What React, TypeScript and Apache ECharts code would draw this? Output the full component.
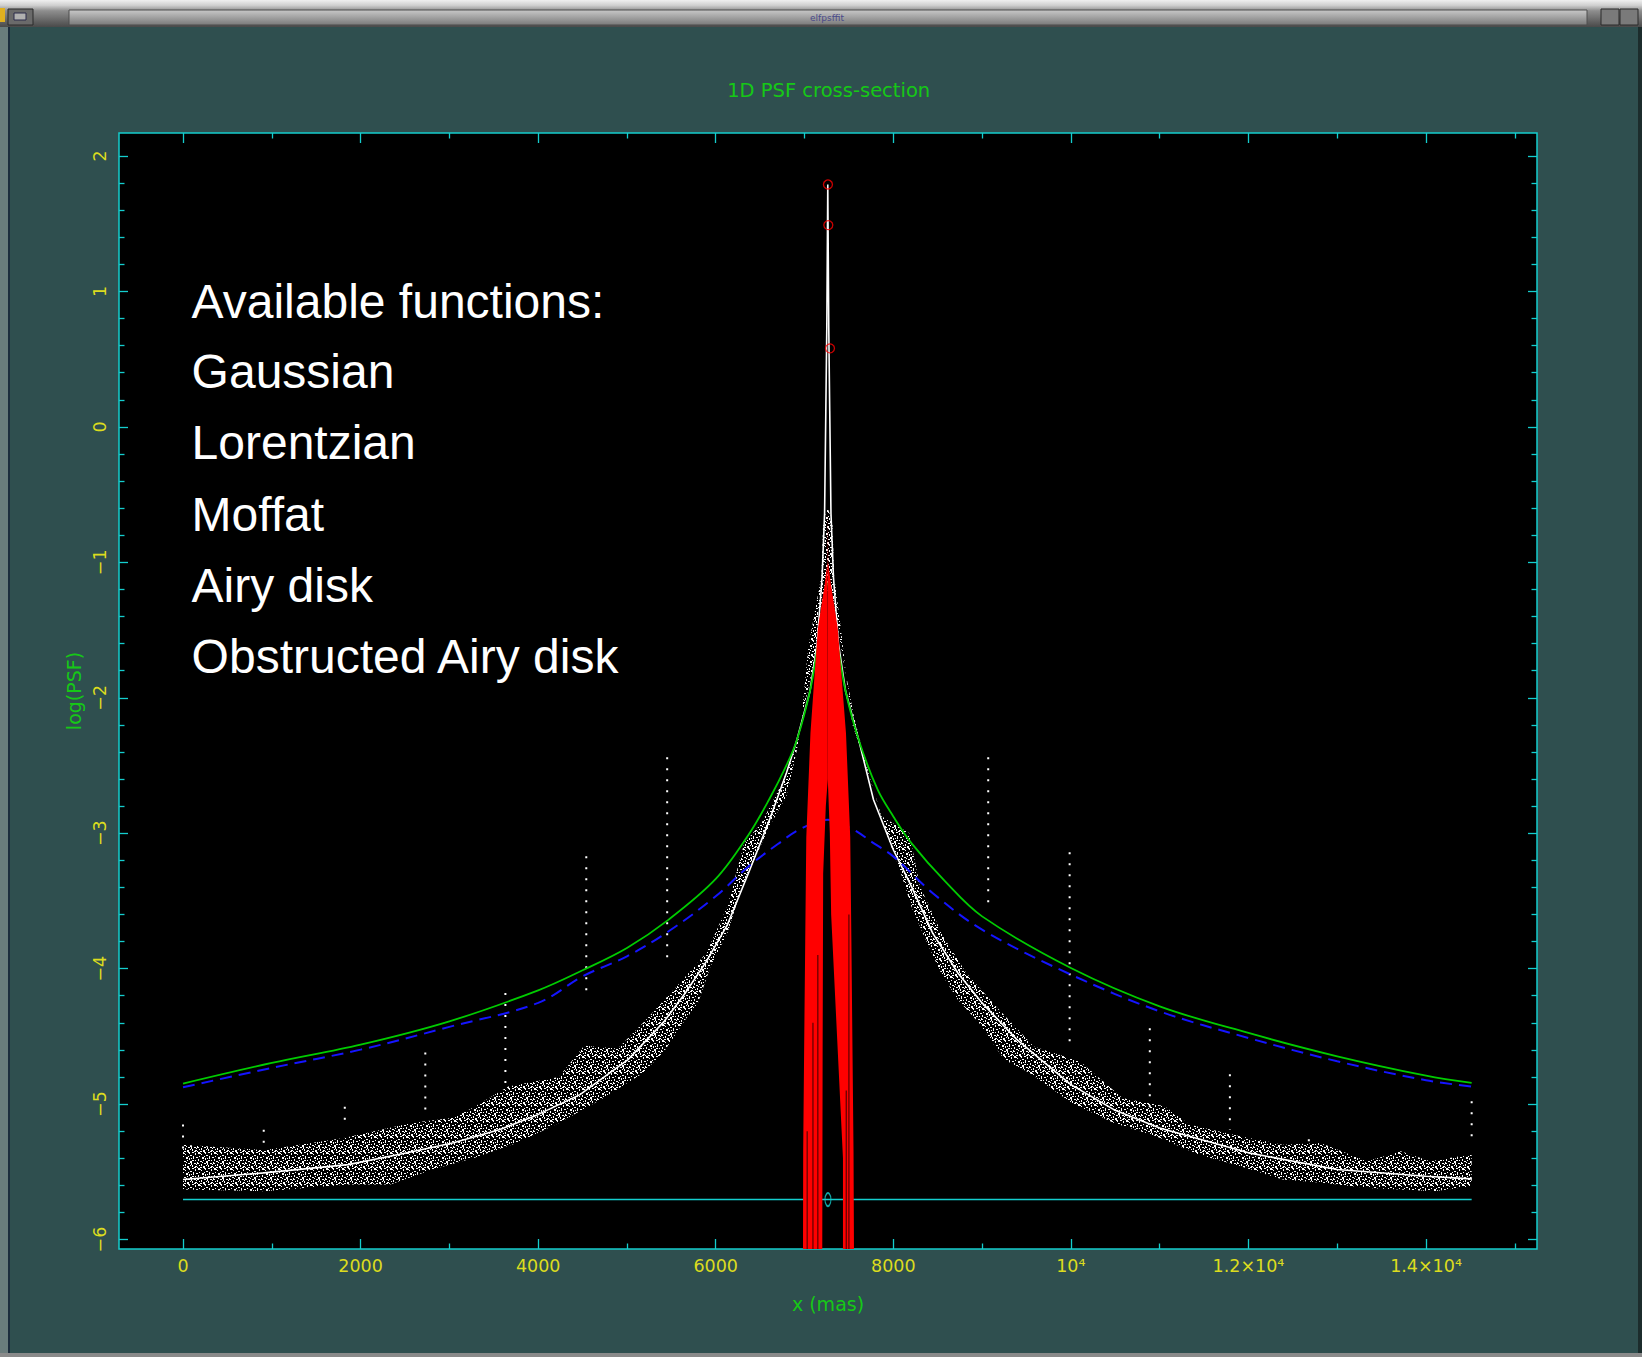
import React, { useEffect, useRef } from "react";
import * as echarts from "echarts";

// ---------------- data ----------------
const xMajorTicks = [0, 2000, 4000, 6000, 8000, 10000, 12000, 14000];
const xTickLabels = ["0", "2000", "4000", "6000", "8000", "10⁴", "1.2×10⁴", "1.4×10⁴"];
const xMinorTicks = [1000, 3000, 5000, 7000, 9000, 11000, 13000, 15000];
const yMajorTicks = [-6, -5, -4, -3, -2, -1, 0, 1, 2];
const yTickLabels = ["−6", "−5", "−4", "−3", "−2", "−1", "0", "1", "2"];
const yMinorTicks = [
  -5.8, -5.6, -5.4, -5.2, -4.8, -4.6, -4.4, -4.2, -3.8, -3.6, -3.4, -3.2,
  -2.8, -2.6, -2.4, -2.2, -1.8, -1.6, -1.4, -1.2, -0.8, -0.6, -0.4, -0.2,
  0.2, 0.4, 0.6, 0.8, 1.2, 1.4, 1.6, 1.8,
];

const titleText = "1D PSF cross-section";
const xName = "x (mas)";
const yName = "log(PSF)";
const noteLines = [
  "Available functions:",
  "Gaussian",
  "Lorentzian",
  "Moffat",
  "Airy disk",
  "Obstructed Airy disk",
];

// white smooth fit through the data
const whiteFit: number[][] = [
  [0, -5.557], [911, -5.508], [1860, -5.447], [2525, -5.36], [3047, -5.286],
  [3569, -5.188], [3996, -5.078], [4471, -4.93], [5012, -4.672], [5420, -4.389],
  [5657, -4.18], [5895, -3.946], [6132, -3.675], [6369, -3.294], [6606, -2.9],
  [6796, -2.556], [6915, -2.31], [7062, -1.95], [7142, -1.6], [7198, -1.11],
  [7226, -0.64], [7240, 0.12], [7251, 0.74], [7259, 1.5], [7262, 1.79],
  [7265, 1.5], [7273, 0.74], [7284, 0.12], [7298, -0.64], [7326, -1.11],
  [7382, -1.6], [7462, -1.95], [7610, -2.31], [7777, -2.753], [8000, -3.122],
  [8204, -3.393], [8442, -3.736], [8727, -4.032], [9000, -4.253], [9392, -4.524],
  [10000, -4.856], [10485, -5.041], [11000, -5.176], [12000, -5.36], [13000, -5.483],
  [14000, -5.533], [14514, -5.552],
];

// green solid fit
const greenFit: number[][] = [
  [0, -4.849], [1000, -4.696], [2000, -4.561], [3000, -4.389], [4000, -4.16],
  [4500, -4.012], [5000, -3.847], [5470, -3.638], [6000, -3.338], [6370, -3.011],
  [6600, -2.753], [6800, -2.494], [6915, -2.31], [7062, -1.95], [7142, -1.65],
  [7182, -1.5], [7222, -1.3], [7262, -1.155], [7302, -1.3], [7342, -1.5],
  [7382, -1.65], [7462, -1.95], [7610, -2.31], [7824, -2.679], [8000, -2.876],
  [8204, -3.073], [8584, -3.356], [9000, -3.614], [10000, -3.995], [11000, -4.278],
  [12000, -4.475], [13000, -4.647], [14000, -4.79], [14514, -4.844],
];

// blue dashed fit
const blueFit: number[][] = [
  [0, -4.876], [1000, -4.733], [2000, -4.598], [3000, -4.43], [4000, -4.253],
  [4500, -4.057], [5000, -3.909], [5470, -3.724], [6000, -3.466], [6370, -3.245],
  [6700, -3.08], [6950, -2.97], [7262, -2.9], [7539, -2.969], [7777, -3.073],
  [8000, -3.171], [8442, -3.441], [9000, -3.712], [10000, -4.044], [11000, -4.315],
  [12000, -4.512], [13000, -4.684], [14000, -4.824], [14514, -4.87],
];

// outline of the scattered data cloud
const cloudOutline: number[][] = [
  [0, -5.3], [911, -5.34], [1813, -5.25], [2572, -5.14], [3047, -5.1], [3284, -5.02],
  [3664, -4.87], [4233, -4.8], [4518, -4.57], [4898, -4.59], [5183, -4.4], [5562, -4.13],
  [5895, -3.885], [6132, -3.54], [6322, -3.07], [6511, -2.93], [6749, -2.63], [6868, -2.43],
  [6960, -2.2], [7040, -1.64], [7120, -1.35], [7190, -1.1], [7210, -0.7], [7262, -0.6],
  [7314, -0.7], [7334, -1.1],
  [7410, -1.49], [7480, -1.9], [7540, -2.2], [7634, -2.384], [7872, -2.876], [8180, -3.0],
  [8299, -3.392], [8561, -3.761], [8822, -4.032], [9155, -4.278], [9582, -4.574],
  [10105, -4.685], [10580, -4.955], [11055, -5.016], [11340, -5.152], [11910, -5.238],
  [12385, -5.3], [12813, -5.287], [13336, -5.422], [13716, -5.348], [14048, -5.422],
  [14514, -5.37],
  [14514, -5.607], [14096, -5.643], [13716, -5.631], [13336, -5.619], [12860, -5.582],
  [12385, -5.557], [11910, -5.459], [11435, -5.373], [10960, -5.238], [10485, -5.139],
  [10010, -4.992], [9535, -4.77], [9250, -4.672], [8964, -4.4], [8727, -4.229],
  [8537, -4.032], [8347, -3.761], [8204, -3.541], [8062, -3.246], [7919, -2.999],
  [7777, -2.679], [7682, -2.458], [7560, -2.15], [7430, -1.7], [7330, -1.3],
  [7262, -1.2], [7194, -1.3], [7120, -1.7], [6985, -2.1], [6915, -2.384],
  [6796, -2.728], [6606, -2.949],
  [6417, -3.22], [6274, -3.442], [6132, -3.737], [5942, -3.983], [5800, -4.254],
  [5657, -4.377], [5420, -4.61], [5183, -4.77], [4708, -4.967], [4233, -5.139],
  [3759, -5.287], [3284, -5.397], [2810, -5.483], [2335, -5.594], [1860, -5.594],
  [1386, -5.619], [911, -5.643], [0, -5.631],
];

// vertical streaks of isolated data points
const streakX = [0, 909, 1822, 2729, 3631, 4542, 5453, 9069, 9986, 10889, 11791, 12680, 14514];
const streakTop = [-5.15, -5.19, -5.02, -4.62, -4.18, -3.17, -2.44, -2.44, -3.14, -4.44, -4.78, -5.26, -4.98];
const streakBottom = [-5.35, -5.31, -5.13, -5.06, -4.85, -4.2, -3.95, -3.55, -4.6, -5.07, -5.19, -5.36, -5.25];

// Airy-disk profile (red), left and right lobes
const redLeftLobe: number[][] = [
  [7260, -0.6], [7258, -1.0], [7230, -1.15], [7150, -1.49], [7067, -2.26], [7020, -3.03],
  [7008, -3.8], [6996, -4.58], [6985, -5.35], [6983, -6.07], [7200, -6.07], [7204, -4.6],
  [7210, -3.3], [7240, -2.8], [7262, -2.6],
];
const redRightLobe: number[][] = [
  [7264, -0.6], [7266, -1.0], [7295, -1.15], [7375, -1.49], [7467, -2.26], [7515, -3.03],
  [7528, -3.8], [7540, -4.58], [7552, -5.35], [7557, -6.07], [7433, -6.07], [7433, -5.4],
  [7300, -3.6], [7285, -3.0], [7262, -2.6],
];
// thin dark gaps between the Airy rings: x and top of each gap
const airyGapX = [7030, 7095, 7150, 7470, 7500];
const airyGapTop = [-5.2, -4.4, -3.9, -4.9, -3.6];

// red peak markers
const peakMarkers: number[][] = [[7264, 1.79], [7268, 1.49], [7287, 0.58]];

// cyan background level and centre marker
const baseline: number[][] = [[0, -5.705], [14514, -5.705]];
const centreMarker: number[][] = [[7264, -5.705]];

// ---------------- styling ----------------
const SLATE = "#2f4f4f";
const CYAN = "#14cdcd";
const YELLOW = "#dcdc1e";
const GREEN_TXT = "#16c816";
const GREEN = "#00cc00";
const BLUE = "#1414ff";
const RED = "#ff0000";
const FONT = "DejaVu Sans";

const X_MIN = -721;
const X_MAX = 15250;
const Y_MIN = -6.07;
const Y_MAX = 2.17;

const dotRects = [
  [0, 0, 2, 1], [3, 1, 1, 2], [6, 0, 2, 2], [9, 2, 1, 1], [12, 0, 2, 1], [14, 3, 2, 1],
  [1, 4, 1, 2], [4, 5, 2, 1], [7, 4, 1, 1], [10, 5, 2, 2], [13, 6, 1, 2], [0, 8, 2, 1],
  [3, 8, 1, 1], [6, 7, 1, 2], [8, 9, 2, 1], [11, 8, 1, 1], [14, 9, 2, 2], [2, 11, 2, 1],
  [5, 10, 1, 2], [9, 12, 1, 2], [12, 11, 2, 1], [0, 13, 1, 2], [3, 14, 2, 1], [7, 13, 1, 1],
  [11, 14, 2, 2], [14, 13, 1, 1], [5, 15, 1, 1], [15, 6, 1, 1], [1, 6, 1, 1], [8, 1, 1, 1],
  [10, 10, 1, 1], [4, 12, 1, 1], [13, 1, 1, 1], [2, 15, 2, 1], [15, 11, 1, 2], [8, 15, 2, 1],
  [6, 11, 1, 1], [12, 4, 1, 1],
];
const dotTile =
  "data:image/svg+xml;utf8," +
  encodeURIComponent(
    "<svg xmlns='http://www.w3.org/2000/svg' width='16' height='16'>" +
      dotRects.map((r) => `<rect x='${r[0]}' y='${r[1]}' width='${r[2]}' height='${r[3]}' fill='#ffffff'/>`).join("") +
      "</svg>"
  );

function polygonSeries(name: string, pts: number[][], style: any, z: number) {
  return {
    type: "custom",
    name,
    coordinateSystem: "cartesian2d",
    xAxisIndex: 0,
    yAxisIndex: 0,
    data: [[pts[0][0], pts[0][1]]],
    z,
    silent: true,
    clip: true,
    renderItem: (_params: any, api: any) => ({
      type: "polygon",
      shape: { points: pts.map((p) => api.coord(p)) },
      style,
    }),
  };
}

function tickAxis(kind: "x" | "y", position: string, values: number[], length: number, labels: boolean) {
  const isX = kind === "x";
  const ax: any = {
    type: "value",
    gridIndex: 0,
    position,
    min: isX ? X_MIN : Y_MIN,
    max: isX ? X_MAX : Y_MAX,
    axisLine: { show: false, onZero: false },
    splitLine: { show: false },
    axisTick: { show: true, inside: true, length, customValues: values, lineStyle: { color: CYAN, width: 1.3 } },
    axisLabel: { show: false },
  };
  if (labels) {
    if (isX) {
      ax.axisLabel = {
        show: true,
        customValues: values,
        formatter: (v: number) => xTickLabels[xMajorTicks.indexOf(v)] ?? "",
        color: YELLOW,
        fontSize: 17.5,
        fontFamily: FONT,
        margin: 8,
      };
      ax.name = xName;
      ax.nameLocation = "middle";
      ax.nameGap = 45;
      ax.nameTextStyle = { color: GREEN_TXT, fontSize: 19, fontFamily: FONT };
    } else {
      ax.axisLabel = {
        show: true,
        customValues: values,
        rotate: 90,
        formatter: (v: number) => yTickLabels[yMajorTicks.indexOf(v)] ?? "",
        color: YELLOW,
        fontSize: 17.5,
        fontFamily: FONT,
        margin: 10,
      };
      ax.name = yName;
      ax.nameLocation = "middle";
      ax.nameGap = 36;
      ax.nameTextStyle = { color: GREEN_TXT, fontSize: 19, fontFamily: FONT };
    }
  }
  return ax;
}

export default function App() {
  const ref = useRef<HTMLDivElement>(null);

  useEffect(() => {
    if (!ref.current) return;
    const chart = echarts.init(ref.current, undefined, { renderer: "svg" });

    const chrome: any[] = [
      {
        type: "rect",
        shape: { x: 0, y: 0, width: 1642, height: 27 },
        style: {
          fill: new echarts.graphic.LinearGradient(0, 0, 0, 1, [
            { offset: 0, color: "#f0f0f0" },
            { offset: 0.2, color: "#cfcfcf" },
            { offset: 0.4, color: "#8e8e8e" },
            { offset: 1, color: "#4a4a4a" },
          ]),
        },
      },
      {
        type: "rect",
        shape: { x: 69, y: 10, width: 1518, height: 15 },
        style: {
          fill: new echarts.graphic.LinearGradient(0, 0, 0, 1, [
            { offset: 0, color: "#c8c8c8" },
            { offset: 1, color: "#7a7a7a" },
          ]),
          stroke: "#4e4e4e",
          lineWidth: 1,
        },
      },
      {
        type: "text",
        x: 827,
        y: 18,
        style: { text: "elfpsffit", fill: "#4a4a8a", font: "9px DejaVu Sans", align: "center", verticalAlign: "middle" },
      },
      { type: "rect", shape: { x: 8, y: 9, width: 25, height: 16 }, style: { fill: "#6a6a6a", stroke: "#2a2a2a", lineWidth: 1 } },
      { type: "rect", shape: { x: 14, y: 13, width: 12, height: 7 }, style: { fill: "#b0b0b0", stroke: "#2a2a4a", lineWidth: 1 } },
      { type: "rect", shape: { x: 1601, y: 9, width: 18, height: 16 }, style: { fill: "#7a7a7a", stroke: "#2a2a2a", lineWidth: 1 } },
      { type: "rect", shape: { x: 1620, y: 9, width: 18, height: 16 }, style: { fill: "#7a7a7a", stroke: "#2a2a2a", lineWidth: 1 } },
      { type: "rect", shape: { x: 0, y: 8, width: 5, height: 14 }, style: { fill: "#e0b020" } },
      { type: "rect", shape: { x: 0, y: 27, width: 8, height: 1330 }, style: { fill: "#6a7c7c" } },
      { type: "rect", shape: { x: 8, y: 27, width: 2, height: 1330 }, style: { fill: "#1c2c3c" } },
      { type: "rect", shape: { x: 1638, y: 27, width: 4, height: 1330 }, style: { fill: "#1c2c2c" } },
      { type: "rect", shape: { x: 0, y: 1353, width: 1642, height: 4 }, style: { fill: "#8a8a8a" } },
      {
        type: "text",
        x: 828.7,
        y: 90,
        style: { text: titleText, fill: GREEN_TXT, font: `19.5px "${FONT}"`, align: "center", verticalAlign: "middle" },
      },
    ];

    const noteY = [301.6, 371.7, 442.9, 514.2, 585.2, 656.5];
    const notes = noteLines.map((t, i) => ({
      type: "text",
      x: 191.6,
      y: noteY[i],
      z: 50,
      style: { text: t, fill: "#ffffff", font: '48px "Liberation Sans"', align: "left", verticalAlign: "middle" },
    }));

    const streakData = streakX.map((x, i) => [x, streakTop[i], streakBottom[i]]);
    const gapData = airyGapX.map((x, i) => [x, airyGapTop[i]]);

    const option: any = {
      animation: false,
      backgroundColor: SLATE,
      textStyle: { fontFamily: FONT },
      grid: {
        left: 119,
        top: 133,
        width: 1418,
        height: 1116,
        show: true,
        backgroundColor: "#000000",
        borderColor: CYAN,
        borderWidth: 1.5,
      },
      xAxis: [
        tickAxis("x", "bottom", xMajorTicks, 10, true),
        tickAxis("x", "bottom", xMinorTicks, 5.5, false),
        tickAxis("x", "top", xMajorTicks, 10, false),
        tickAxis("x", "top", xMinorTicks, 5.5, false),
      ],
      yAxis: [
        tickAxis("y", "left", yMajorTicks, 9, true),
        tickAxis("y", "left", yMinorTicks, 5.5, false),
        tickAxis("y", "right", yMajorTicks, 9, false),
        tickAxis("y", "right", yMinorTicks, 5.5, false),
      ],
      graphic: [...chrome, ...notes],
      series: [
        polygonSeries(
          "data cloud",
          cloudOutline,
          { fill: { image: dotTile, repeat: "repeat", imageWidth: 16, imageHeight: 16 } },
          2
        ),
        {
          type: "custom",
          name: "streaks",
          coordinateSystem: "cartesian2d",
          data: streakData,
          z: 3,
          silent: true,
          renderItem: (_p: any, api: any) => {
            const a = api.coord([api.value(0), api.value(1)]);
            const b = api.coord([api.value(0), api.value(2)]);
            return {
              type: "line",
              shape: { x1: a[0], y1: a[1], x2: b[0], y2: b[1] },
              style: { stroke: "#ffffff", lineWidth: 2, lineDash: [2, 9] },
            };
          },
        },
        {
          type: "line",
          name: "white fit",
          data: whiteFit,
          showSymbol: false,
          z: 4,
          lineStyle: { color: "#ffffff", width: 1.6 },
        },
        {
          type: "line",
          name: "green fit",
          data: greenFit,
          showSymbol: false,
          z: 5,
          smooth: 0.35,
          lineStyle: { color: GREEN, width: 1.8 },
        },
        {
          type: "line",
          name: "blue fit",
          data: blueFit,
          showSymbol: false,
          z: 5,
          smooth: 0.35,
          lineStyle: { color: BLUE, width: 2, type: [12, 7] },
        },
        {
          type: "line",
          name: "baseline",
          data: baseline,
          showSymbol: false,
          z: 6,
          lineStyle: { color: CYAN, width: 1.6 },
        },
        {
          type: "scatter",
          name: "centre",
          data: centreMarker,
          z: 6,
          symbol: "circle",
          symbolSize: [6, 13],
          itemStyle: { color: "transparent", borderColor: CYAN, borderWidth: 1.5 },
        },
        polygonSeries("airy left", redLeftLobe, { fill: RED }, 7),
        polygonSeries("airy right", redRightLobe, { fill: RED }, 7),
        {
          type: "custom",
          name: "airy gaps",
          coordinateSystem: "cartesian2d",
          data: gapData,
          z: 7,
          silent: true,
          renderItem: (_p: any, api: any) => {
            const a = api.coord([api.value(0), api.value(1)]);
            const b = api.coord([api.value(0), Y_MIN]);
            return {
              type: "line",
              shape: { x1: a[0], y1: a[1], x2: b[0], y2: b[1] },
              style: { stroke: "#5a0000", lineWidth: 1.2 },
              z2: 10,
            };
          },
        },
        {
          type: "scatter",
          name: "peak",
          data: peakMarkers,
          z: 8,
          symbol: "circle",
          symbolSize: 9,
          itemStyle: { color: "transparent", borderColor: RED, borderWidth: 1.3 },
        },
      ],
    };

    chart.setOption(option);
    return () => chart.dispose();
  }, []);

  return (
    <div
      ref={ref}
      style={{ position: "fixed", left: 0, top: 0, width: 1642, height: 1357 }}
    />
  );
}
